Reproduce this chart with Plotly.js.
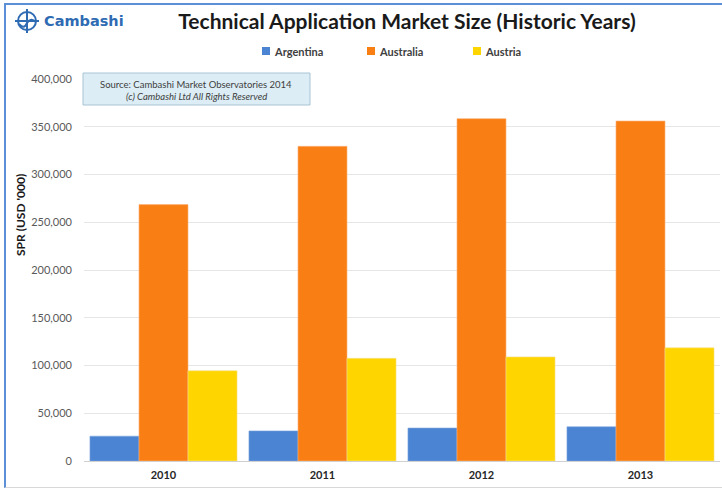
<!DOCTYPE html>
<html>
<head>
<meta charset="utf-8">
<script src="https://cdn.plot.ly/plotly-3.0.1.min.js"></script>
<style>
html,body{margin:0;padding:0;background:#fff;overflow:hidden;}
#wrap{position:relative;width:722px;height:488px;}
#chart{width:722px;height:488px;}
#frame{position:absolute;left:4px;top:3px;width:718px;height:482px;border-left:2px solid #5b8fd8;border-top:2px solid #5b8fd8;border-bottom:1px solid #d8d8d8;pointer-events:none;}
</style>
</head>
<body>
<div id="wrap"><div id="chart"></div><div id="frame"></div></div>
<script>
var years = ['2010', '2011', '2012', '2013'];
var argentina = [26000, 31500, 34500, 35800];
var australia = [268500, 329500, 358500, 356000];
var austria = [94500, 107500, 109000, 118500];
var yTickVals = [0, 50000, 100000, 150000, 200000, 250000, 300000, 350000, 400000];
var yTickText = ['0', '50,000', '100,000', '150,000', '200,000', '250,000', '300,000', '350,000', '400,000'];

var L = 84, R = 720, T = 79, B = 461;
function px(x){ return (x - L) / (R - L); }
function py(y){ return (B - y) / (B - T); }

var FONT = 'Lato, "Liberation Sans", sans-serif';

var traces = [
  {type:'bar', name:'Argentina', x:years, y:argentina, marker:{color:'#4a84d2', line:{color:'#7fa6de', width:0.6}}},
  {type:'bar', name:'Australia', x:years, y:australia, marker:{color:'#f97f15', line:{color:'#fbb27a', width:0.6}}},
  {type:'bar', name:'Austria', x:years, y:austria, marker:{color:'#ffd500', line:{color:'#f5e08a', width:0.6}}}
];

var legendItems = [
  {name:'Argentina', color:'#4a84d2', x:262},
  {name:'Australia', color:'#f97f15', x:367},
  {name:'Austria', color:'#ffd500', x:473}
];

var shapes = [
  // source box
  {type:'rect', xref:'paper', yref:'paper', x0:px(83), x1:px(310), y0:py(73), y1:py(105), fillcolor:'#dcedf5', line:{color:'#a9c4d4', width:1}},
  // logo icon
  {type:'circle', xref:'paper', yref:'paper', x0:px(18), x1:px(36), y0:py(12), y1:py(30), line:{color:'#2f6bb3', width:2}},
  {type:'line', xref:'paper', yref:'paper', x0:px(15), x1:px(39), y0:py(21), y1:py(21), line:{color:'#2f6bb3', width:2}},
  {type:'line', xref:'paper', yref:'paper', x0:px(27), x1:px(27), y0:py(9), y1:py(33), line:{color:'#2f6bb3', width:2}},
  {type:'path', xref:'paper', yref:'paper',
   path:'M '+px(19)+','+py(24)+' Q '+px(24)+','+py(30)+' '+px(27)+','+py(23)+' Q '+px(31)+','+py(17)+' '+px(36)+','+py(22),
   line:{color:'#2f6bb3', width:2}}
];
var annotations = [
  {xref:'paper', yref:'paper', x:px(42), y:py(21), xanchor:'left', yanchor:'middle', showarrow:false,
   text:'<b>Cambashi</b>', font:{family:'"DejaVu Sans", sans-serif', size:14.5, color:'#2f6bb3'}},
  {xref:'paper', yref:'paper', x:px(196), y:py(84), xanchor:'center', yanchor:'middle', showarrow:false,
   text:'Source: Cambashi Market Observatories 2014', font:{family:FONT, size:9.5, color:'#404040'}},
  {xref:'paper', yref:'paper', x:px(196), y:py(96), xanchor:'center', yanchor:'middle', showarrow:false,
   text:'<i>(c) Cambashi Ltd All Rights Reserved</i>', font:{family:FONT, size:9.5, color:'#404040'}},
  {xref:'paper', yref:'paper', x:px(20), y:py(215), xanchor:'center', yanchor:'middle', showarrow:false, textangle:-90,
   text:'<b>SPR (USD \'000)</b>', font:{family:FONT, size:12, color:'#1a1a1a'}}
];
legendItems.forEach(function(it){
  shapes.push({type:'rect', xref:'paper', yref:'paper', x0:px(it.x), x1:px(it.x+8), y0:py(47), y1:py(55), fillcolor:it.color, line:{width:0}});
  annotations.push({xref:'paper', yref:'paper', x:px(it.x+10), y:py(51), xanchor:'left', yanchor:'middle', showarrow:false,
    text:'<b>'+it.name+'</b>', font:{family:FONT, size:11, color:'#404040'}});
});

var layout = {
  width:722, height:488,
  margin:{l:L, r:722-R, t:T, b:488-B, pad:0},
  paper_bgcolor:'#ffffff', plot_bgcolor:'#ffffff',
  title:{text:'<b>Technical Application Market Size (Historic Years)</b>', xref:'container', x:407/722, xanchor:'center',
         yref:'container', y:1-22/488, yanchor:'middle',
         font:{family:FONT, size:21, color:'#1a1a1a'}},
  showlegend:false,
  barmode:'group', bargap:0.075, bargroupgap:0,
  xaxis:{type:'category', showgrid:false, showline:false, zeroline:false,
         ticks:'', tickfont:{family:FONT, size:11, color:'#262626'},
         tickprefix:'<b>', ticksuffix:'</b>', ticklabelstandoff:6},
  yaxis:{range:[0,400000], tickvals:yTickVals, ticktext:yTickText, showgrid:true, gridcolor:'#e6e6e6', gridwidth:1,
         zeroline:true, zerolinecolor:'#d0d0d0', zerolinewidth:1, showline:false,
         ticks:'', tickfont:{family:FONT, size:11, color:'#595959'}, ticklabelstandoff:11},
  shapes:shapes,
  annotations:annotations
};

Plotly.newPlot('chart', traces, layout, {displayModeBar:false, staticPlot:true});
</script>
</body>
</html>
